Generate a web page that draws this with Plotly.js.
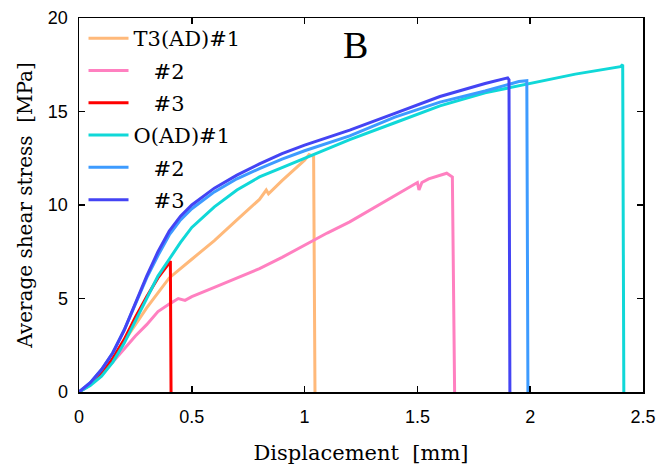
<!DOCTYPE html>
<html>
<head>
<meta charset="utf-8">
<script src="https://cdn.plot.ly/plotly-3.0.1.min.js"></script>
<style>html,body{margin:0;padding:0;background:#fff;}#chart{width:656px;height:470px;}</style>
</head>
<body>
<div id="chart"></div>
<script>
// T3(AD)#1
var t3_1_x = [0, 0.05, 0.1, 0.15, 0.2, 0.25, 0.3, 0.35, 0.4, 0.5, 0.6, 0.7, 0.8, 0.83, 0.84, 0.9, 1.0, 1.02, 1.04, 1.046];
var t3_1_y = [0, 0.4, 1.0, 1.8, 2.7, 3.6, 4.5, 5.3, 6.1, 7.1, 8.1, 9.2, 10.3, 10.8, 10.6, 11.3, 12.4, 12.7, 12.6, 0];
// T3(AD)#2
var t3_2_x = [0, 0.05, 0.1, 0.15, 0.2, 0.25, 0.3, 0.35, 0.4, 0.44, 0.47, 0.5, 0.6, 0.7, 0.8, 0.9, 1.0, 1.1, 1.2, 1.3, 1.4, 1.5, 1.507, 1.52, 1.55, 1.6, 1.63, 1.655, 1.665];
var t3_2_y = [0, 0.4, 1.0, 1.6, 2.3, 3.0, 3.6, 4.3, 4.7, 5.0, 4.9, 5.1, 5.6, 6.1, 6.6, 7.2, 7.85, 8.5, 9.1, 9.8, 10.5, 11.2, 10.8, 11.2, 11.4, 11.6, 11.7, 11.5, 0];
// T3(AD)#3
var t3_3_x = [0, 0.05, 0.1, 0.15, 0.2, 0.25, 0.3, 0.35, 0.4, 0.405, 0.408];
var t3_3_y = [0, 0.4, 1.0, 1.8, 2.8, 4.0, 5.1, 6.1, 6.9, 7.0, 0];
// O(AD)#1
var o_1_x = [0, 0.05, 0.1, 0.15, 0.2, 0.25, 0.3, 0.35, 0.4, 0.45, 0.5, 0.6, 0.7, 0.8, 0.9, 1.0, 1.2, 1.4, 1.6, 1.8, 2.0, 2.2, 2.4, 2.41, 2.415];
var o_1_y = [0, 0.35, 0.85, 1.6, 2.6, 3.8, 5.0, 6.2, 7.1, 8.0, 8.8, 9.9, 10.8, 11.5, 12.0, 12.5, 13.5, 14.4, 15.3, 16.0, 16.5, 17.0, 17.4, 17.5, 0];
// O(AD)#2
var o_2_x = [0, 0.05, 0.1, 0.15, 0.2, 0.25, 0.3, 0.35, 0.4, 0.45, 0.5, 0.6, 0.7, 0.8, 0.9, 1.0, 1.2, 1.4, 1.6, 1.8, 1.95, 1.985, 1.99];
var o_2_y = [0, 0.5, 1.2, 2.1, 3.3, 4.7, 6.1, 7.3, 8.4, 9.2, 9.8, 10.7, 11.4, 11.95, 12.45, 12.9, 13.7, 14.7, 15.5, 16.1, 16.6, 16.65, 0];
// O(AD)#3
var o_3_x = [0, 0.05, 0.1, 0.15, 0.2, 0.25, 0.3, 0.35, 0.4, 0.45, 0.5, 0.6, 0.7, 0.8, 0.9, 1.0, 1.2, 1.4, 1.6, 1.8, 1.9, 1.906, 1.91];
var o_3_y = [0, 0.5, 1.2, 2.1, 3.3, 4.8, 6.2, 7.5, 8.6, 9.4, 10.0, 10.9, 11.6, 12.2, 12.75, 13.2, 14.0, 14.9, 15.8, 16.5, 16.8, 16.7, 0];

var names = ['T3(AD)#1', '\u00a0\u00a0\u00a0#2', '\u00a0\u00a0\u00a0#3', 'O(AD)#1', '\u00a0\u00a0\u00a0#2', '\u00a0\u00a0\u00a0#3'];
var colors = ['#ffb97a', '#ff80c0', '#ff0000', '#10d8d8', '#3d9bff', '#4444f4'];
var xs = [t3_1_x, t3_2_x, t3_3_x, o_1_x, o_2_x, o_3_x];
var ys = [t3_1_y, t3_2_y, t3_3_y, o_1_y, o_2_y, o_3_y];

var traces = xs.map(function(x, i) {
  return {x: x, y: ys[i], type: 'scatter', mode: 'lines', name: names[i],
    legendgroup: 'g' + i, line: {color: colors[i], width: 3}};
});

var serif = 'DejaVu Serif, serif';
var axisCommon = {
  showgrid: false, zeroline: false, showline: true, linecolor: '#000', linewidth: 1.5,
  mirror: 'ticks', ticks: 'inside', ticklen: 6, tickwidth: 1.5, tickcolor: '#000',
  tickfont: {family: 'Liberation Sans, Arial, sans-serif', size: 18, color: '#000'}
};

var layout = {
  width: 656, height: 470,
  margin: {l: 79, r: 13, t: 18, b: 78},
  paper_bgcolor: '#fff', plot_bgcolor: '#fff',
  xaxis: Object.assign({}, axisCommon, {
    range: [0, 2.5], tickvals: [0, 0.5, 1, 1.5, 2, 2.5], ticktext: ['0', '0.5', '1', '1.5', '2', '2.5'],
    ticklabelstandoff: 8,
    title: {text: 'Displacement  [mm]', standoff: 19, font: {family: serif, size: 21, color: '#000'}}
  }),
  yaxis: Object.assign({}, axisCommon, {
    range: [0, 20], tickvals: [0, 5, 10, 15, 20], ticktext: ['0', '5', '10', '15', '20'],
    ticklabelstandoff: 6,
    title: {text: 'Average shear stress  [MPa]', standoff: 10, font: {family: serif, size: 20, color: '#000'}}
  }),
  legend: {
    x: 0.008, y: 1.0, xanchor: 'left', yanchor: 'top',
    bgcolor: 'rgba(0,0,0,0)', borderwidth: 0,
    font: {family: serif, size: 21, color: '#000'},
    tracegroupgap: 2, itemwidth: 40
  },
  annotations: [{
    text: 'B', xref: 'paper', yref: 'paper', x: 0.49, y: 0.928, xanchor: 'center', yanchor: 'middle', showarrow: false,
    font: {family: 'Liberation Serif, Times New Roman, serif', size: 38, color: '#000'}
  }],
  showlegend: true
};

Plotly.newPlot('chart', traces, layout, {displayModeBar: false, staticPlot: true});
</script>
</body>
</html>
